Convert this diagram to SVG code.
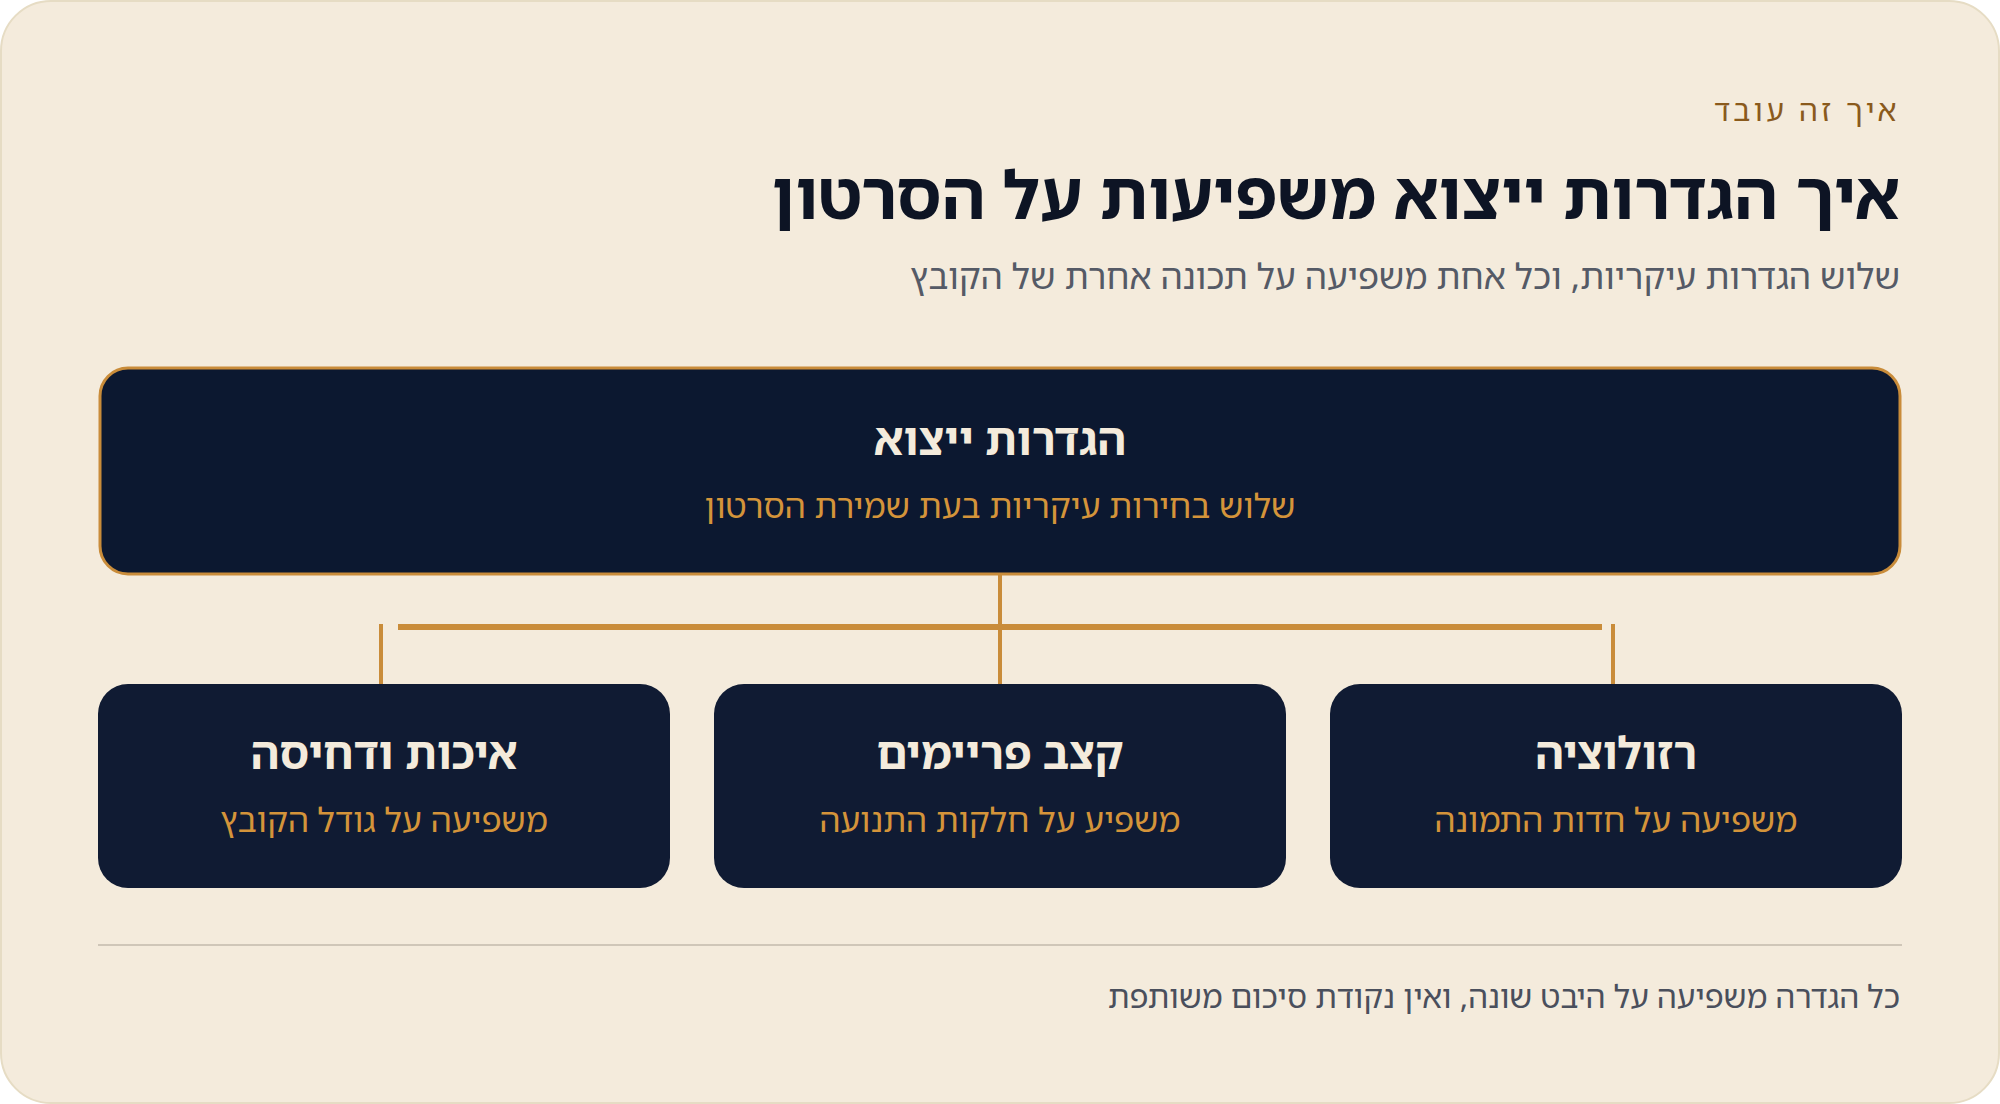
<svg xmlns="http://www.w3.org/2000/svg" width="2000" height="1104" viewBox="0 0 2000 1104">
<style>
text{font-family:"Noto Sans","Noto Sans Hebrew","DejaVu Sans",sans-serif}
.eyebrow{font-size:30px;fill:#8a5a1c;letter-spacing:3.5px}
.title{font-size:67px;font-weight:700;fill:#0d1424}
.sub{font-size:35px;fill:#555a66}
.ntitle{font-size:44px;font-weight:700;fill:#f4ebdc}
.nsub{font-size:33.5px;fill:#d4943a}
.foot{font-size:31.5px;fill:#4a4f5c}
.node{fill:#101b33}
.conn{stroke:#c98c3a;fill:none}
</style>
<rect x="1" y="1" width="1998" height="1102" rx="50" fill="#f4ebdc" stroke="#e6dcc4" stroke-width="2"/>
<text class="eyebrow" x="1900" y="121" text-anchor="end">איך זה עובד</text>
<text class="title" x="1900" y="219" text-anchor="end">איך הגדרות ייצוא משפיעות על הסרטון</text>
<text class="sub" x="1900" y="289" text-anchor="end">שלוש הגדרות עיקריות, וכל אחת משפיעה על תכונה אחרת של הקובץ</text>
<g id="connectors">
<line class="conn" x1="1000" y1="574" x2="1000" y2="684" stroke-width="4"/>
<line class="conn" x1="398" y1="627" x2="1602" y2="627" stroke-width="6"/>
<line class="conn" x1="381" y1="624" x2="381" y2="684" stroke-width="4"/>
<line class="conn" x1="1613" y1="624" x2="1613" y2="684" stroke-width="4"/>
</g>
<g id="node-root">
<rect x="100" y="368" width="1800" height="206" rx="28" fill="#0c1830" stroke="#c98c3a" stroke-width="3"/>
<text class="ntitle" x="1000" y="455" text-anchor="middle">הגדרות ייצוא</text>
<text class="nsub" x="1000" y="518" text-anchor="middle">שלוש בחירות עיקריות בעת שמירת הסרטון</text>
</g>
<g id="node-quality">
<rect class="node" x="98" y="684" width="572" height="204" rx="30"/>
<text class="ntitle" x="384" y="769" text-anchor="middle">איכות ודחיסה</text>
<text class="nsub" x="384" y="832" text-anchor="middle">משפיעה על גודל הקובץ</text>
</g>
<g id="node-fps">
<rect class="node" x="714" y="684" width="572" height="204" rx="30"/>
<text class="ntitle" x="1000" y="769" text-anchor="middle">קצב פריימים</text>
<text class="nsub" x="1000" y="832" text-anchor="middle">משפיע על חלקות התנועה</text>
</g>
<g id="node-res">
<rect class="node" x="1330" y="684" width="572" height="204" rx="30"/>
<text class="ntitle" x="1616" y="769" text-anchor="middle">רזולוציה</text>
<text class="nsub" x="1616" y="832" text-anchor="middle">משפיעה על חדות התמונה</text>
</g>
<line x1="98" y1="945" x2="1902" y2="945" stroke="#cfc6b8" stroke-width="2"/>
<text class="foot" x="1900" y="1008" text-anchor="end">כל הגדרה משפיעה על היבט שונה, ואין נקודת סיכום משותפת</text>
</svg>
